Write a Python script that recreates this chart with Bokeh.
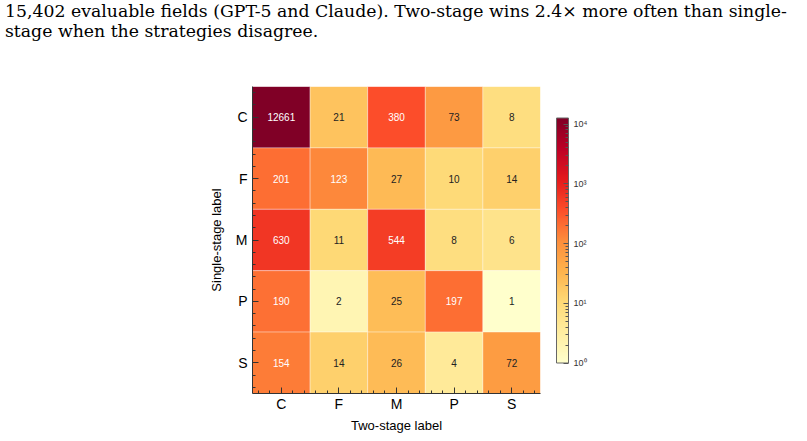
import numpy as np
from bokeh.plotting import figure
from bokeh.layouts import column
from bokeh.models import (ColumnDataSource, LogColorMapper, ColorBar, FixedTicker,
                          Range1d, Div)
from bokeh.core.properties import value
from bokeh.embed import file_html
from bokeh.resources import INLINE

# ---- data ----
single_stage = ["C", "F", "M", "P", "S"]   # rows (y)
two_stage = ["C", "F", "M", "P", "S"]      # columns (x)
row_C = [12661, 21, 380, 73, 8]
row_F = [201, 123, 27, 10, 14]
row_M = [630, 11, 544, 8, 6]
row_P = [190, 2, 25, 197, 1]
row_S = [154, 14, 26, 4, 72]
rows = [row_C, row_F, row_M, row_P, row_S]
cbar_ticks = [1, 10, 100, 1000, 10000]
cbar_labels = ["10⁰", "10¹", "10²", "10³", "10⁴"]
caption1 = "15,402 evaluable fields (GPT-5 and Claude). Two-stage wins 2.4× more often than single-"
caption2 = "stage when the strategies disagree."

# ---- palette (YlOrRd, light -> dark), interpolated to 256 ----
base = ['#ffffcc', '#ffeda0', '#fed976', '#feb24c', '#fd8d3c',
        '#fc4e2a', '#e31a1c', '#bd0026', '#800026']
rgb = np.array([[int(c[i:i + 2], 16) for i in (1, 3, 5)] for c in base], float)
pos = np.linspace(0, 1, len(base))
t = np.linspace(0, 1, 256)
pal = ["#%02x%02x%02x" % tuple(int(round(np.interp(tt, pos, rgb[:, k]))) for k in range(3)) for tt in t]

vmax = max(max(r) for r in rows)
mapper = LogColorMapper(palette=pal, low=1, high=vmax)

xs, ys, vs, labels, tcol = [], [], [], [], []
for i, r in enumerate(rows):
    for j, v in enumerate(r):
        xs.append(j + 0.5)
        ys.append(i + 0.5)
        vs.append(v)
        labels.append(str(v))
        tcol.append("white" if v > 100 else "#222222")
src = ColumnDataSource(dict(x=xs, y=ys, v=vs, label=labels, tcol=tcol))

CAP_H = 44
p = figure(width=807, height=441 - CAP_H, output_backend="svg", toolbar_location=None,
           x_range=Range1d(0, len(two_stage)), y_range=Range1d(len(single_stage), 0),
           frame_width=288, frame_height=307,
           min_border_left=252, min_border_right=267, min_border_top=86 - CAP_H,
           min_border_bottom=48, margin=0)
p.outline_line_color = None
p.grid.visible = False
p.background_fill_color = "white"
p.border_fill_color = "white"

p.rect(x="x", y="y", width=1, height=1, source=src,
       fill_color={"field": "v", "transform": mapper},
       line_color="white", line_alpha=0.35, line_width=1)
p.text(x="x", y="y", text="label", source=src, text_color="tcol",
       text_align="center", text_baseline="middle",
       text_font=value("Liberation Sans"), text_font_size="10px")

major = [k + 0.5 for k in range(5)]
minor = [round(0.1 + 0.2 * k, 2) for k in range(25)]
for ax, labs in ((p.xaxis[0], two_stage), (p.yaxis[0], single_stage)):
    ax.ticker = FixedTicker(ticks=major, minor_ticks=minor)
    ax.major_label_overrides = {m: l for m, l in zip(major, labs)}
    ax.major_tick_in = 6
    ax.major_tick_out = 0
    ax.minor_tick_in = 3
    ax.minor_tick_out = 0
    ax.axis_line_color = "#333333"
    ax.major_tick_line_color = "#333333"
    ax.minor_tick_line_color = "#333333"
    ax.major_label_text_font = "Liberation Sans"
    ax.major_label_text_font_size = "14px"
    ax.major_label_text_color = "black"
    ax.axis_label_text_font = "Liberation Sans"
    ax.axis_label_text_font_size = "13px"
    ax.axis_label_text_font_style = "normal"
    ax.axis_label_text_color = "black"
p.xaxis.axis_label = "Two-stage label"
p.yaxis.axis_label = "Single-stage label"
p.xaxis.major_label_standoff = 2
p.xaxis.axis_label_standoff = 3
p.yaxis.major_label_standoff = 5
p.yaxis.axis_label_standoff = 9
p.yaxis.major_label_orientation = "horizontal"

cb = ColorBar(color_mapper=mapper, width=12, height=245, padding=16,
              location="center_left",
              ticker=FixedTicker(ticks=cbar_ticks,
                                 minor_ticks=[m * d for d in (1, 10, 100, 1000) for m in range(2, 10)]),
              major_label_overrides={tk: lb for tk, lb in zip(cbar_ticks, cbar_labels)},
              major_label_text_font="Liberation Sans", major_label_text_font_size="9px",
              major_label_text_color="#333333",
              major_tick_in=5, major_tick_out=0, minor_tick_in=3, minor_tick_out=0,
              major_tick_line_color="#555555", minor_tick_line_color="#555555",
              bar_line_color="#666666", bar_line_width=1, label_standoff=5,
              background_fill_color=None, border_line_color=None)
p.add_layout(cb, "right")

cap = Div(text=caption1 + "<br>" + caption2, width=807, height=CAP_H, margin=0,
          styles={"font-family": "'DejaVu Serif'", "font-size": "17.3px",
                  "line-height": "1.15", "color": "black",
                  "padding-left": "5px", "padding-top": "2px",
                  "white-space": "nowrap", "box-sizing": "border-box"})

layout = column(cap, p, spacing=0, margin=0)
open("out.html", "w").write(file_html(layout, INLINE))
